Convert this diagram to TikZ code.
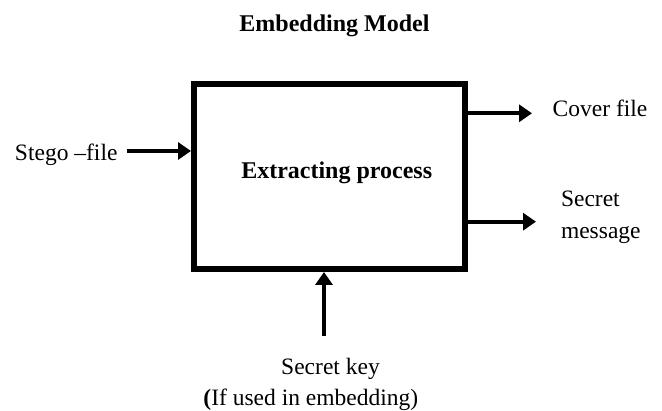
\documentclass[tikz,border=0pt]{standalone}
\usepackage{fontspec}
\setmainfont{Liberation Serif}
\usetikzlibrary{arrows.meta}
\begin{document}
\begin{tikzpicture}[x=1pt,y=-1pt,
  every node/.style={inner sep=0pt,outer sep=0pt,font=\fontsize{23.5}{28}\selectfont},
  txt/.style={anchor=base west},
  ctr/.style={anchor=base},
  procbox/.style={draw,line width=6pt,minimum width=271pt,minimum height=185pt,inner sep=0pt,outer sep=3pt},
  arr/.style={line width=4pt,-{Triangle[length=13pt,width=17pt]}}]
\useasboundingbox (0,0) rectangle (662,411);
\node[ctr,font=\fontsize{24}{28}\selectfont\bfseries] (title) at (334.5,31.5) {Embedding Model};
\node[procbox] (box) at (329.5,176.5) {};
\node[ctr,font=\fontsize{24}{28}\selectfont\bfseries] (proc) at (336.7,179) {Extracting process};
\node[txt] (stego) at (15,160.5) {Stego –file};
\node[txt] (cover) at (552.7,116.7) {Cover file};
\node[txt] (secret1) at (561,206.7) {Secret};
\node[txt] (secret2) at (561,238.3) {message};
\node[ctr] (key1) at (330.5,375) {Secret key};
\node[ctr] (key2) at (310.8,405.5) {\textbf{(}If used in embedding)};
\coordinate (sA) at (127,151);
\coordinate (cB) at (532,113.3);
\coordinate (mB) at (536,221.7);
\coordinate (kA) at (324,336);
\draw[arr] (sA) -- (sA -| box.west);
\draw[arr] (box.east |- cB) -- (cB);
\draw[arr] (box.east |- mB) -- (mB);
\draw[arr] (kA) -- (kA |- box.south);
\end{tikzpicture}
\end{document}
